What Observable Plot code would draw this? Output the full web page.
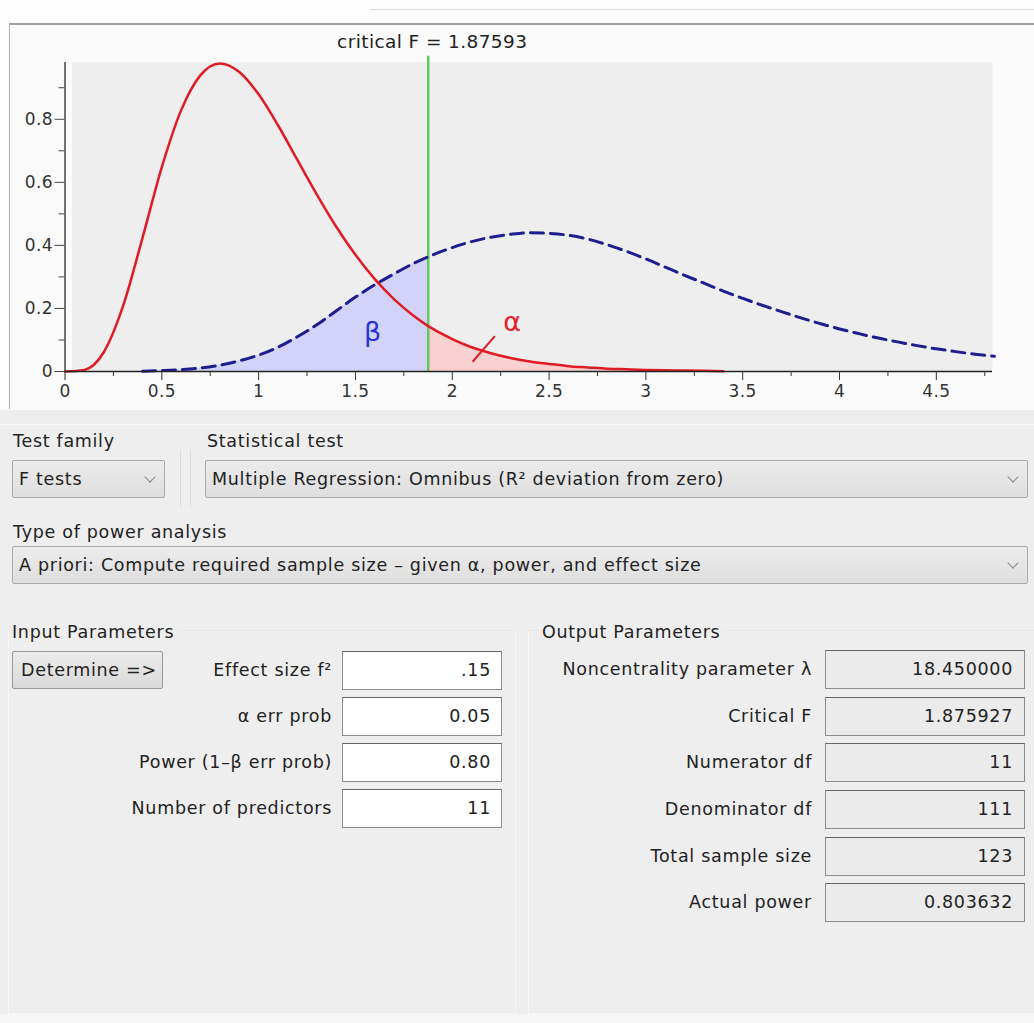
<!DOCTYPE html>
<html>
<head>
<meta charset="utf-8">
<script src="https://cdn.jsdelivr.net/npm/d3@7"></script>
<script src="https://cdn.jsdelivr.net/npm/@observablehq/plot@0.6"></script>
<style>
  html, body { margin: 0; padding: 0; }
  body { width: 1034px; height: 1023px; position: relative; overflow: hidden;
         background: #eeeeee; font-family: "DejaVu Sans", sans-serif; color: #222; font-size: 17.5px; letter-spacing: 0.7px; }
  .abs { position: absolute; }
  .lbl { position: absolute; line-height: 20px; white-space: nowrap; }
  .combo { position: absolute; box-sizing: border-box; height: 38px;
           background: linear-gradient(#ececec, #dedede); border: 1px solid #a9a9a9; border-radius: 2px;
           line-height: 36px; padding-left: 6px; white-space: nowrap; }
  .chev { position: absolute; top: 12px; width: 7px; height: 7px; border-right: 1.5px solid #8a8a8a;
          border-bottom: 1.5px solid #8a8a8a; transform: rotate(45deg); }
  .inbox { position: absolute; box-sizing: border-box; height: 39px; width: 160px; background: #fff;
           border: 1px solid #8c8c8c; border-top-color: #666; line-height: 37px; text-align: right; padding-right: 10px; }
  .outbox { position: absolute; box-sizing: border-box; height: 39px; width: 200px; background: #ebebeb;
            border: 1px solid #8c8c8c; border-top-color: #666; line-height: 37px; text-align: right; padding-right: 11px; }
  .rlab { position: absolute; text-align: right; line-height: 20px; white-space: nowrap; }
  #chart svg text { letter-spacing: 0.4px; }
</style>
</head>
<body>
<div class="abs" style="left:0;top:0;width:1034px;height:410px;background:#fcfcfc;"></div>
<div class="abs" style="left:370px;top:9px;width:664px;height:0;border-top:1px solid #dcdcdc;"></div>
<div class="abs" style="left:9px;top:23px;width:1025px;height:384px;background:#fafafa;border-top:2px solid #a0a0a0;border-left:1px solid #b0b0b0;"></div>
<div id="chart" class="abs" style="left:0;top:0;"></div>
<div id="ui"></div>
<script>
// ---- chart data ----
const xGrid = [0, 0.1, 0.2, 0.3, 0.4, 0.5, 0.6, 0.7, 0.8, 0.9, 1.0, 1.1, 1.2, 1.3, 1.4, 1.5, 1.6, 1.7, 1.8, 1.87593,
  1.9, 2.0, 2.1, 2.2, 2.3, 2.4, 2.5, 2.6, 2.7, 2.8, 2.9, 3.0, 3.1, 3.2, 3.3, 3.4, 3.5,
  3.6, 3.7, 3.8, 3.9, 4.0, 4.1, 4.2, 4.3, 4.4, 4.5, 4.6, 4.7, 4.8];
const centralDensity = [0, 0.005, 0.061, 0.208, 0.423, 0.648, 0.829, 0.940, 0.977, 0.950, 0.879, 0.781, 0.671, 0.562, 0.460, 0.370, 0.293, 0.229, 0.177, 0.144,
  0.135, 0.103, 0.077, 0.058, 0.043, 0.032, 0.024, 0.017, 0.013, 0.009, 0.007, 0.005, 0.004, 0.003, 0.002, 0.001, 0.001,
  0, 0, 0, 0, 0, 0, 0, 0, 0, 0, 0, 0, 0];
const noncentralDensity = [0, 0, 0, 0, 0.001, 0.003, 0.006, 0.011, 0.020, 0.034, 0.052, 0.077, 0.110, 0.148, 0.192, 0.236, 0.275, 0.310, 0.343, 0.364,
  0.370, 0.393, 0.412, 0.426, 0.435, 0.440, 0.438, 0.432, 0.420, 0.402, 0.381, 0.357, 0.331, 0.305, 0.280, 0.255, 0.232,
  0.210, 0.190, 0.170, 0.152, 0.135, 0.120, 0.106, 0.094, 0.082, 0.072, 0.063, 0.055, 0.048];
const criticalF = 1.87593;
const criticalLabel = "critical F = 1.87593";
const xMajorTicks = [0, 0.5, 1, 1.5, 2, 2.5, 3, 3.5, 4, 4.5];
const xMinorTicks = [0.25, 0.75, 1.25, 1.75, 2.25, 2.75, 3.25, 3.75, 4.25, 4.75];
const yMajorTicks = [0, 0.2, 0.4, 0.6, 0.8];
const yMinorTicks = [0.1, 0.3, 0.5, 0.7, 0.9];
const greekLabels = ["β", "α"];
const greekX = [1.59, 2.31];
const greekY = [0.125, 0.155];
const alphaPointer = [{x1: 2.105, y1: 0.031, x2: 2.22, y2: 0.112}];

// ---- UI data ----
const testFamily = "F tests";
const statisticalTest = "Multiple Regression: Omnibus (R² deviation from zero)";
const powerAnalysisType = "A priori: Compute required sample size – given α, power, and effect size";
const inputLabels = ["Effect size f²", "α err prob", "Power (1–β err prob)", "Number of predictors"];
const inputValues = [".15", "0.05", "0.80", "11"];
const outputLabels = ["Noncentrality parameter λ", "Critical F", "Numerator df", "Denominator df", "Total sample size", "Actual power"];
const outputValues = ["18.450000", "1.875927", "11", "111", "123", "0.803632"];

const densityTable = xGrid.map((x, i) => ({x, central: centralDensity[i], noncentral: noncentralDensity[i]}));
const greekTable = greekLabels.map((label, i) => ({label, x: greekX[i], y: greekY[i]}));

const chart = Plot.plot({
  width: 1034, height: 410,
  marginLeft: 64.5, marginRight: 42, marginTop: 62, marginBottom: 39,
  x: {domain: [0, 4.79], label: null},
  y: {domain: [0, 0.98], label: null},
  style: {background: "transparent", fontFamily: "DejaVu Sans, sans-serif", fontSize: "17px", color: "#333", overflow: "visible"},
  marks: [
    Plot.frame({fill: "#eeeeee", stroke: null, insetLeft: 7}),
    Plot.areaY(densityTable.filter(d => d.x <= criticalF), {x: "x", y: "noncentral", fill: "#d3d3f9", curve: "monotone-x"}),
    Plot.areaY(densityTable.filter(d => d.x >= criticalF && d.x <= 3.6), {x: "x", y: "central", fill: "#f9d1d1", curve: "monotone-x"}),
    Plot.ruleX([criticalF], {y1: 0, y2: 1.0, stroke: "#62c862", strokeWidth: 2.5}),
    Plot.line(densityTable.filter(d => d.x >= 0.4), {x: "x", y: "noncentral", stroke: "#1e1e8e", strokeWidth: 3, strokeDasharray: "13,7", curve: "monotone-x"}),
    Plot.line(densityTable.filter(d => d.x <= 3.4), {x: "x", y: "central", stroke: "#df1c25", strokeWidth: 2.5, curve: "monotone-x"}),
    Plot.link(alphaPointer, {x1: "x1", y1: "y1", x2: "x2", y2: "y2", stroke: "#df1c25", strokeWidth: 2}),
    Plot.ruleY([0], {stroke: "#222", strokeWidth: 1.5}),
    Plot.ruleX([0], {y1: 0, y2: 0.98, stroke: "#444", strokeWidth: 1.5}),
    Plot.axisY({ticks: yMajorTicks, tickSize: 10, tickPadding: 2, tickFormat: d => String(d), label: null, stroke: "#444", fill: "#333"}),
    Plot.axisY({ticks: yMinorTicks, tickSize: 6, tickFormat: () => "", label: null, stroke: "#444"}),
    Plot.axisX({ticks: xMajorTicks, tickSize: 9, tickPadding: 4, tickFormat: d => String(d), label: null, stroke: "#333", fill: "#333"}),
    Plot.axisX({ticks: xMinorTicks, tickSize: 5, tickFormat: () => "", label: null, stroke: "#333"}),
    Plot.text([criticalLabel], {x: criticalF, y: 0.98, dy: -20, dx: 4, text: d => d, fontSize: 18.5, fill: "#222"}),
    Plot.text(greekTable, {x: "x", y: "y", text: "label", fontSize: 27, fill: d => d.label === "β" ? "#2a33d4" : "#e3222b"})
  ]
});
document.getElementById("chart").appendChild(chart);

// ---- UI panel below the chart ----
const ui = document.getElementById("ui");
function add(html) { ui.insertAdjacentHTML("beforeend", html); }
add(`<div class="abs" style="left:0;top:424px;width:1034px;height:0;border-top:1px solid #f8f8f8;"></div>`);
add(`<div class="lbl" style="left:13px;top:431px;">Test family</div>`);
add(`<div class="lbl" style="left:207px;top:431px;">Statistical test</div>`);
add(`<div class="combo" style="left:12px;top:460px;width:153px;">${testFamily}<span class="chev" style="left:133px;"></span></div>`);
add(`<div class="abs" style="left:180px;top:450px;width:9px;height:58px;border-left:1px solid #dddddd;border-right:1px solid #dddddd;"></div>`);
add(`<div class="combo" style="left:205px;top:460px;width:823px;">${statisticalTest}<span class="chev" style="left:803px;"></span></div>`);
add(`<div class="lbl" style="left:13px;top:522px;">Type of power analysis</div>`);
add(`<div class="combo" style="left:12px;top:546px;width:1016px;">${powerAnalysisType}<span class="chev" style="left:996px;"></span></div>`);

add(`<div class="abs" style="left:8px;top:630px;width:506px;height:382px;border:1px solid #f7f7f7;border-top-color:#e6e6e6;"></div>`);
add(`<div class="abs" style="left:528px;top:630px;width:505px;height:382px;border:1px solid #f7f7f7;border-top-color:#e6e6e6;"></div>`);
add(`<div class="lbl" style="left:12px;top:622px;background:#eeeeee;padding-right:4px;">Input Parameters</div>`);
add(`<div class="lbl" style="left:542px;top:622px;background:#eeeeee;padding-right:4px;">Output Parameters</div>`);
add(`<div class="combo" style="left:12px;top:651px;width:151px;padding-left:8px;background:linear-gradient(#ebebeb,#dadada);border-color:#999;">Determine =&gt;</div>`);

const inTops = [651, 697, 743, 789];
inputLabels.forEach((l, i) => {
  add(`<div class="rlab" style="left:2px;width:330px;top:${inTops[i] + 9}px;">${l}</div>`);
  add(`<div class="inbox" style="left:342px;top:${inTops[i]}px;">${inputValues[i]}</div>`);
});
const outTops = [650, 697, 743, 790, 837, 883];
outputLabels.forEach((l, i) => {
  add(`<div class="rlab" style="left:482px;width:330px;top:${outTops[i] + 9}px;">${l}</div>`);
  add(`<div class="outbox" style="left:825px;top:${outTops[i]}px;">${outputValues[i]}</div>`);
});
add(`<div class="abs" style="left:0;top:1014px;width:1034px;height:9px;background:#f6f6f6;"></div>`);
</script>
</body>
</html>
